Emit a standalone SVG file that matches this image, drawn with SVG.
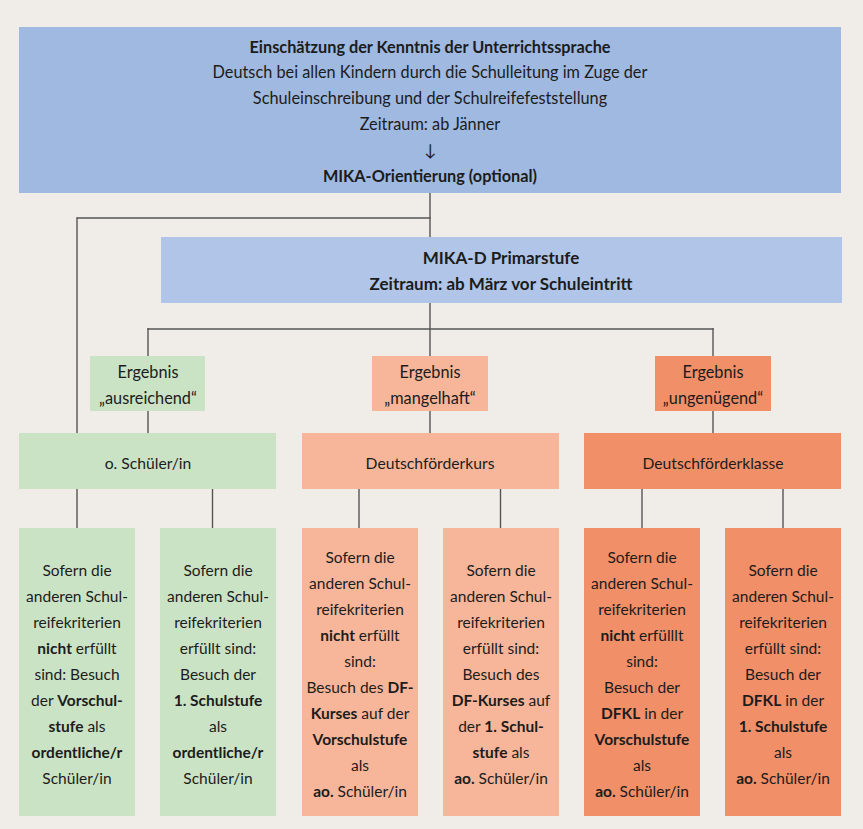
<svg xmlns="http://www.w3.org/2000/svg" width="863" height="829" viewBox="0 0 863 829">
<style>
text{font-family:Lato,"Open Sans","Liberation Sans",sans-serif;font-size:15.5px;fill:#1c1c1c;text-anchor:middle}
.b{font-weight:bold}
.t{font-size:16.3px}
.m{font-size:17px}
.e{font-size:16.3px}
.r{font-size:15.7px}
.blue1{fill:#9fb9e1}
.blue2{fill:#b0c5e7}
.green{fill:#cbe3c5}
.lor{fill:#f7b699}
.or{fill:#f18f68}
.con line{stroke:#555;stroke-width:1.4}
</style>
<rect width="863" height="829" fill="#f0ede8"/>
<g class="con">
<line x1="430" y1="192" x2="430" y2="237"/>
<line x1="77" y1="218" x2="430.7" y2="218"/>
<line x1="77" y1="217.3" x2="77" y2="433"/>
<line x1="430" y1="303" x2="430" y2="356"/>
<line x1="147.3" y1="329" x2="713.7" y2="329"/>
<line x1="148" y1="328.3" x2="148" y2="356"/>
<line x1="713" y1="328.3" x2="713" y2="356"/>
<line x1="148" y1="411" x2="148" y2="433"/>
<line x1="430" y1="411" x2="430" y2="433"/>
<line x1="713" y1="411" x2="713" y2="433"/>
<line x1="77" y1="489" x2="77" y2="528"/>
<line x1="212.5" y1="489" x2="212.5" y2="528"/>
<line x1="359" y1="489" x2="359" y2="528"/>
<line x1="500.5" y1="489" x2="500.5" y2="528"/>
<line x1="642" y1="489" x2="642" y2="528"/>
<line x1="783" y1="489" x2="783" y2="528"/>
</g>
<g id="top" class="t">
<rect class="blue1" x="19" y="27" width="822" height="166"/>
<text x="430" y="52.5" class="t b">Einschätzung der Kenntnis der Unterrichtssprache</text>
<text x="430" y="78" class="t">Deutsch bei allen Kindern durch die Schulleitung im Zuge der</text>
<text x="430" y="104" class="t">Schuleinschreibung und der Schulreifefeststellung</text>
<text x="430" y="130" class="t">Zeitraum: ab Jänner</text>
<text x="430" y="156" class="t">↓</text>
<text x="430" y="182" class="t b">MIKA-Orientierung (optional)</text>
</g>
<g id="mikad">
<rect class="blue2" x="161" y="237" width="681" height="66"/>
<text x="501" y="264" class="m b">MIKA-D Primarstufe</text>
<text x="501" y="290" class="m b">Zeitraum: ab März vor Schuleintritt</text>
</g>
<g id="erg1">
<rect class="green" x="90" y="356" width="115" height="55"/>
<text x="148" y="378" class="e">Ergebnis</text>
<text x="148" y="404" class="e">„ausreichend“</text>
</g>
<g id="erg2">
<rect class="lor" x="372" y="356" width="116" height="55"/>
<text x="430" y="378" class="e">Ergebnis</text>
<text x="430" y="404" class="e">„mangelhaft“</text>
</g>
<g id="erg3">
<rect class="or" x="655" y="356" width="116" height="55"/>
<text x="713" y="378" class="e">Ergebnis</text>
<text x="713" y="404" class="e">„ungenügend“</text>
</g>
<g id="row1">
<rect class="green" x="19" y="433" width="257" height="56"/>
<text x="148" y="468.5" class="r">o. Schüler/in</text>
</g>
<g id="row2">
<rect class="lor" x="302" y="433" width="257" height="56"/>
<text x="430" y="468.5" class="r">Deutschförderkurs</text>
</g>
<g id="row3">
<rect class="or" x="584" y="433" width="257" height="56"/>
<text x="713" y="468.5" class="r">Deutschförderklasse</text>
</g>
<g id="b1">
<rect class="green" x="19" y="528" width="116" height="288"/>
<text x="77" y="575.5">Sofern die</text>
<text x="77" y="601.5">anderen Schul-</text>
<text x="77" y="627.5">reifekriterien</text>
<text x="77" y="653.5"><tspan class="b">nicht</tspan> erfüllt</text>
<text x="77" y="679.5">sind: Besuch</text>
<text x="77" y="705.5">der <tspan class="b">Vorschul-</tspan></text>
<text x="77" y="731.5"><tspan class="b">stufe</tspan> als</text>
<text x="77" y="757.5" class="b">ordentliche/r</text>
<text x="77" y="783.5">Schüler/in</text>
</g>
<g id="b2">
<rect class="green" x="160" y="528" width="116" height="288"/>
<text x="218" y="575.5">Sofern die</text>
<text x="218" y="601.5">anderen Schul-</text>
<text x="218" y="627.5">reifekriterien</text>
<text x="218" y="653.5">erfüllt sind:</text>
<text x="218" y="679.5">Besuch der</text>
<text x="218" y="705.5" class="b">1. Schulstufe</text>
<text x="218" y="731.5">als</text>
<text x="218" y="757.5" class="b">ordentliche/r</text>
<text x="218" y="783.5">Schüler/in</text>
</g>
<g id="b3">
<rect class="lor" x="302" y="528" width="116" height="288"/>
<text x="360" y="562.5">Sofern die</text>
<text x="360" y="588.5">anderen Schul-</text>
<text x="360" y="614.5">reifekriterien</text>
<text x="360" y="640.5"><tspan class="b">nicht</tspan> erfüllt</text>
<text x="360" y="666.5">sind:</text>
<text x="360" y="692.5">Besuch des <tspan class="b">DF-</tspan></text>
<text x="360" y="718.5"><tspan class="b">Kurses</tspan> auf der</text>
<text x="360" y="744.5" class="b">Vorschulstufe</text>
<text x="360" y="770.5">als</text>
<text x="360" y="796.5"><tspan class="b">ao.</tspan> Schüler/in</text>
</g>
<g id="b4">
<rect class="lor" x="443" y="528" width="116" height="288"/>
<text x="501" y="575.5">Sofern die</text>
<text x="501" y="601.5">anderen Schul-</text>
<text x="501" y="627.5">reifekriterien</text>
<text x="501" y="653.5">erfüllt sind:</text>
<text x="501" y="679.5">Besuch des</text>
<text x="501" y="705.5"><tspan class="b">DF-Kurses</tspan> auf</text>
<text x="501" y="731.5">der <tspan class="b">1. Schul-</tspan></text>
<text x="501" y="757.5"><tspan class="b">stufe</tspan> als</text>
<text x="501" y="783.5"><tspan class="b">ao.</tspan> Schüler/in</text>
</g>
<g id="b5">
<rect class="or" x="584" y="528" width="116" height="288"/>
<text x="642" y="562.5">Sofern die</text>
<text x="642" y="588.5">anderen Schul-</text>
<text x="642" y="614.5">reifekriterien</text>
<text x="642" y="640.5"><tspan class="b">nicht</tspan> erfülllt</text>
<text x="642" y="666.5">sind:</text>
<text x="642" y="692.5">Besuch der</text>
<text x="642" y="718.5"><tspan class="b">DFKL</tspan> in der</text>
<text x="642" y="744.5" class="b">Vorschulstufe</text>
<text x="642" y="770.5">als</text>
<text x="642" y="796.5"><tspan class="b">ao.</tspan> Schüler/in</text>
</g>
<g id="b6">
<rect class="or" x="725" y="528" width="116" height="288"/>
<text x="783" y="575.5">Sofern die</text>
<text x="783" y="601.5">anderen Schul-</text>
<text x="783" y="627.5">reifekriterien</text>
<text x="783" y="653.5">erfüllt sind:</text>
<text x="783" y="679.5">Besuch der</text>
<text x="783" y="705.5"><tspan class="b">DFKL</tspan> in der</text>
<text x="783" y="731.5" class="b">1. Schulstufe</text>
<text x="783" y="757.5">als</text>
<text x="783" y="783.5"><tspan class="b">ao.</tspan> Schüler/in</text>
</g>
</svg>
